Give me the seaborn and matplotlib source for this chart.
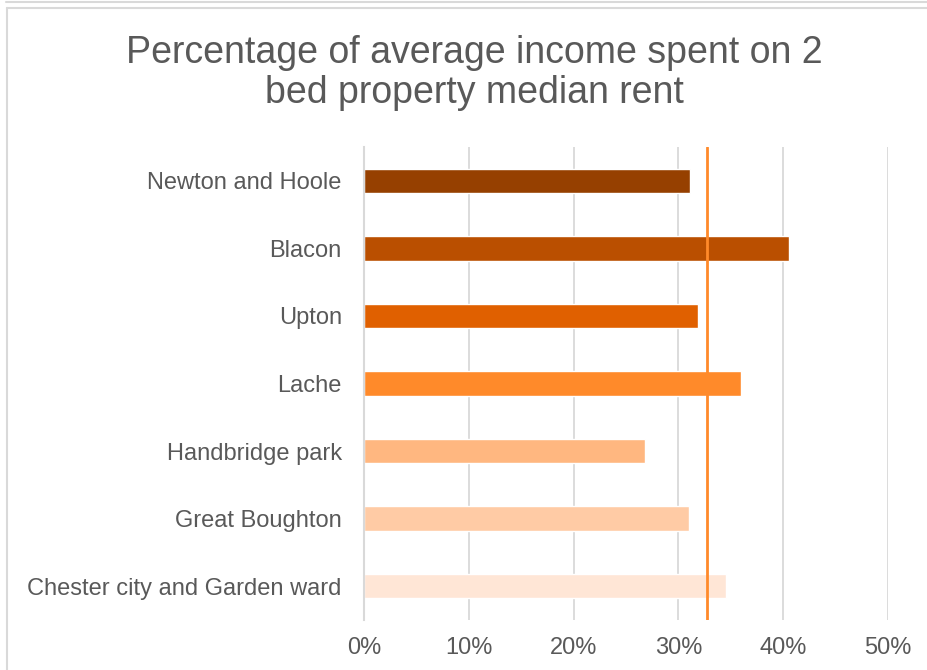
import pandas as pd
import matplotlib.pyplot as plt
import seaborn as sns
from matplotlib.lines import Line2D
from matplotlib.ticker import PercentFormatter

# data
wards = ["Newton and Hoole", "Blacon", "Upton", "Lache",
         "Handbridge park", "Great Boughton", "Chester city and Garden ward"]
share = [31.1, 40.6, 31.9, 36.0, 26.8, 31.0, 34.5]
average = 32.7
colors = ["#964000", "#BA4F00", "#E06000", "#FF8A2A",
          "#FFB780", "#FFCBA5", "#FFE6D6"]

df = pd.DataFrame({"ward": wards, "share": share})

sns.set_style("white")
plt.rcParams['font.family'] = ['Liberation Sans', 'DejaVu Sans']
grey = "#595959"

fig = plt.figure(figsize=(9.27, 6.70), dpi=100)
ax = fig.add_axes([364 / 927, 1 - 620 / 670, (888 - 364) / 927, (620 - 147) / 670])

sns.barplot(data=df, x="share", y="ward", hue="ward", palette=colors,
            orient="h", width=0.36, legend=False, saturation=1, ax=ax)
ax.axvline(average, color="#FF8A2A", lw=2.0, zorder=4)

ax.set_xlim(0, 50)
ax.set_ylim(6.5, -0.5)
ax.set_xticks(range(0, 51, 10))
ax.xaxis.set_major_formatter(PercentFormatter(decimals=0))
ax.grid(axis="x", color="#D9D9D9", lw=1.3)
ax.set_axisbelow(True)
for s in ["top", "right", "bottom"]:
    ax.spines[s].set_visible(False)
ax.spines["left"].set_color("#D9D9D9")
ax.spines["left"].set_linewidth(1.5)
ax.tick_params(axis="both", length=0, labelsize=17, labelcolor=grey)
ax.tick_params(axis="x", pad=12)
ax.tick_params(axis="y", pad=16)
ax.set_xlabel("")
ax.set_ylabel("")

fig.text(474 / 927, 1 - 73 / 670, "Percentage of average income spent on 2\nbed property median rent",
         ha="center", va="center", fontsize=27, color=grey, linespacing=1.12)

# chart frame edges
fc = "#D9D9D9"
fig.add_artist(Line2D([6 / 927, 1], [1 - 2 / 670] * 2, color=fc, lw=1.5))
fig.add_artist(Line2D([6.5 / 927, 1], [1 - 8 / 670] * 2, color=fc, lw=1.5))
fig.add_artist(Line2D([6.5 / 927] * 2, [0, 1 - 8 / 670], color=fc, lw=1.5))

fig.savefig("out.png", dpi=100)
